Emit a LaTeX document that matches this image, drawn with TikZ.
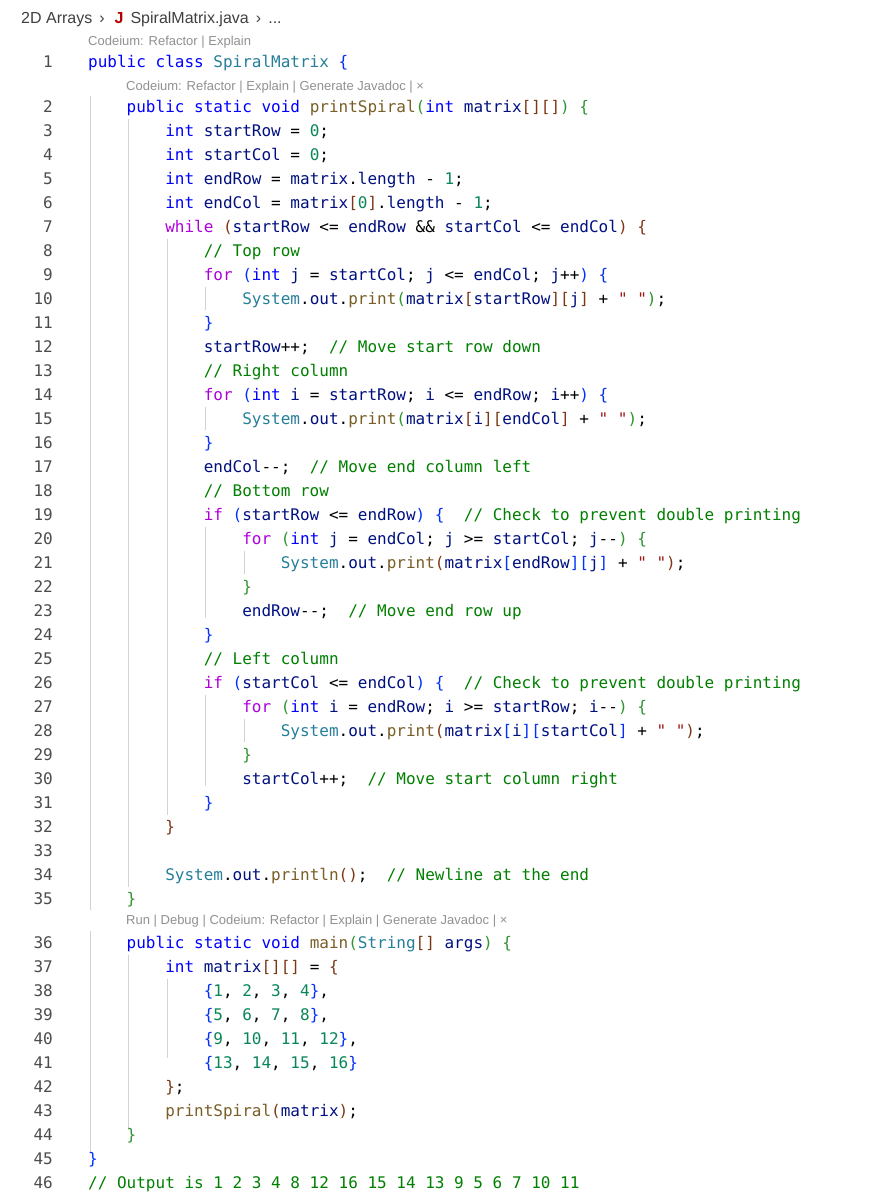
\documentclass[tikz,border=0pt]{standalone}
\usepackage{fontspec}
\setmainfont{Liberation Sans}
\setmonofont{DejaVu Sans Mono}
\definecolor{kw}{HTML}{0000FF}
\definecolor{ctl}{HTML}{AF00DB}
\definecolor{typ}{HTML}{267F99}
\definecolor{var}{HTML}{001080}
\definecolor{fn}{HTML}{795E26}
\definecolor{num}{HTML}{098658}
\definecolor{cmt}{HTML}{008000}
\definecolor{str}{HTML}{A31515}
\definecolor{ba}{HTML}{0431FA}
\definecolor{bb}{HTML}{319331}
\definecolor{bc}{HTML}{7B3814}
\definecolor{guide}{HTML}{D3D3D3}
\definecolor{lens}{HTML}{919191}
\newcommand\K[1]{\textcolor{kw}{#1}}
\newcommand\Cc[1]{\textcolor{ctl}{#1}}
\newcommand\Ty[1]{\textcolor{typ}{#1}}
\newcommand\V[1]{\textcolor{var}{#1}}
\newcommand\Fn[1]{\textcolor{fn}{#1}}
\newcommand\Nm[1]{\textcolor{num}{#1}}
\newcommand\Cm[1]{\textcolor{cmt}{#1}}
\newcommand\St[1]{\textcolor{str}{#1}}
\newcommand\Ba[1]{\textcolor{ba}{#1}}
\newcommand\Bb[1]{\textcolor{bb}{#1}}
\newcommand\Bc[1]{\textcolor{bc}{#1}}
\tikzset{
  code/.style={anchor=base west, inner sep=0, font=\fontsize{16}{16}\selectfont\ttfamily},
  lno/.style={anchor=base east, inner sep=0, font=\fontsize{16}{16}\selectfont\ttfamily, text=black!70},
  lensst/.style={anchor=base west, inner sep=0, font=\fontsize{13}{13}\selectfont, text=lens},
}
\newcommand\CL[4]{%
  \node[lno] (n#1) at (53,#2+5.5) {#1};
  \node[code] (l#1) at (88+38.53*#3,#2+5.5) {#4};}
\begin{document}
\begin{tikzpicture}[x=1pt,y=-1pt]
\useasboundingbox (0,0) rectangle (886,1200);
\fill[white] (0,0) rectangle (886,1200);
% indent guides
\foreach \x/\a/\b in {90/96/910, 90/931/1154, 128.5/119/887, 128.5/955/1130, 167/239/815, 167/979/1058, 205.5/287/310, 205.5/407/430, 205.5/527/618, 205.5/695/786, 244/551/574, 244/719/742}
  \draw[guide, line width=0.8pt] (\x,\a) -- (\x,\b);
% breadcrumb
\node[anchor=base west, inner sep=0, font=\fontsize{16}{16}\selectfont, text=black!75] (crumb) at (21,23)
  {2D Arrays \,›\,\, \textcolor{red!70!black}{\textbf{J}}\, SpiralMatrix.java \,›\, ...};
\node[lensst] (lens1) at (88,45) {Codeium: Refactor | Explain};
\node[lensst] (lens2) at (126,90) {Codeium: Refactor | Explain | Generate Javadoc | ×};
\node[lensst] (lens3) at (126,924) {Run | Debug | Codeium: Refactor | Explain | Generate Javadoc | ×};
\CL{1}{62}{0}{\K{public} \K{class} \Ty{SpiralMatrix} \Ba{\{}}
\CL{2}{107}{1}{\K{public} \K{static} \K{void} \Fn{printSpiral}\Bb{(}\K{int} \V{matrix}\Bc{[]}\Bc{[]}\Bb{)} \Bb{\{}}
\CL{3}{131}{2}{\K{int} \V{startRow} = \Nm{0};}
\CL{4}{155}{2}{\K{int} \V{startCol} = \Nm{0};}
\CL{5}{179}{2}{\K{int} \V{endRow} = \V{matrix}.\V{length} - \Nm{1};}
\CL{6}{203}{2}{\K{int} \V{endCol} = \V{matrix}\Bc{[}\Nm{0}\Bc{]}.\V{length} - \Nm{1};}
\CL{7}{227}{2}{\Cc{while} \Bc{(}\V{startRow} <= \V{endRow} \&\& \V{startCol} <= \V{endCol}\Bc{)} \Bc{\{}}
\CL{8}{251}{3}{\Cm{// Top row}}
\CL{9}{275}{3}{\Cc{for} \Ba{(}\K{int} \V{j} = \V{startCol}; \V{j} <= \V{endCol}; \V{j}++\Ba{)} \Ba{\{}}
\CL{10}{299}{4}{\Ty{System}.\V{out}.\Fn{print}\Bb{(}\V{matrix}\Bc{[}\V{startRow}\Bc{]}\Bc{[}\V{j}\Bc{]} + \St{" "}\Bb{)};}
\CL{11}{323}{3}{\Ba{\}}}
\CL{12}{347}{3}{\V{startRow}++;\ \ \Cm{// Move start row down}}
\CL{13}{371}{3}{\Cm{// Right column}}
\CL{14}{395}{3}{\Cc{for} \Ba{(}\K{int} \V{i} = \V{startRow}; \V{i} <= \V{endRow}; \V{i}++\Ba{)} \Ba{\{}}
\CL{15}{419}{4}{\Ty{System}.\V{out}.\Fn{print}\Bb{(}\V{matrix}\Bc{[}\V{i}\Bc{]}\Bc{[}\V{endCol}\Bc{]} + \St{" "}\Bb{)};}
\CL{16}{443}{3}{\Ba{\}}}
\CL{17}{467}{3}{\V{endCol}--;\ \ \Cm{// Move end column left}}
\CL{18}{491}{3}{\Cm{// Bottom row}}
\CL{19}{515}{3}{\Cc{if} \Ba{(}\V{startRow} <= \V{endRow}\Ba{)} \Ba{\{}\ \ \Cm{// Check to prevent double printing}}
\CL{20}{539}{4}{\Cc{for} \Bb{(}\K{int} \V{j} = \V{endCol}; \V{j} >= \V{startCol}; \V{j}--\Bb{)} \Bb{\{}}
\CL{21}{563}{5}{\Ty{System}.\V{out}.\Fn{print}\Bc{(}\V{matrix}\Ba{[}\V{endRow}\Ba{]}\Ba{[}\V{j}\Ba{]} + \St{" "}\Bc{)};}
\CL{22}{587}{4}{\Bb{\}}}
\CL{23}{611}{4}{\V{endRow}--;\ \ \Cm{// Move end row up}}
\CL{24}{635}{3}{\Ba{\}}}
\CL{25}{659}{3}{\Cm{// Left column}}
\CL{26}{683}{3}{\Cc{if} \Ba{(}\V{startCol} <= \V{endCol}\Ba{)} \Ba{\{}\ \ \Cm{// Check to prevent double printing}}
\CL{27}{707}{4}{\Cc{for} \Bb{(}\K{int} \V{i} = \V{endRow}; \V{i} >= \V{startRow}; \V{i}--\Bb{)} \Bb{\{}}
\CL{28}{731}{5}{\Ty{System}.\V{out}.\Fn{print}\Bc{(}\V{matrix}\Ba{[}\V{i}\Ba{]}\Ba{[}\V{startCol}\Ba{]} + \St{" "}\Bc{)};}
\CL{29}{755}{4}{\Bb{\}}}
\CL{30}{779}{4}{\V{startCol}++;\ \ \Cm{// Move start column right}}
\CL{31}{803}{3}{\Ba{\}}}
\CL{32}{827}{2}{\Bc{\}}}
\CL{33}{851}{2}{}
\CL{34}{875}{2}{\Ty{System}.\V{out}.\Fn{println}\Bc{()};\ \ \Cm{// Newline at the end}}
\CL{35}{899}{1}{\Bb{\}}}
\CL{36}{943}{1}{\K{public} \K{static} \K{void} \Fn{main}\Bb{(}\Ty{String}\Bc{[]} \V{args}\Bb{)} \Bb{\{}}
\CL{37}{967}{2}{\K{int} \V{matrix}\Bc{[]}\Bc{[]} = \Bc{\{}}
\CL{38}{991}{3}{\Ba{\{}\Nm{1}, \Nm{2}, \Nm{3}, \Nm{4}\Ba{\}},}
\CL{39}{1015}{3}{\Ba{\{}\Nm{5}, \Nm{6}, \Nm{7}, \Nm{8}\Ba{\}},}
\CL{40}{1039}{3}{\Ba{\{}\Nm{9}, \Nm{10}, \Nm{11}, \Nm{12}\Ba{\}},}
\CL{41}{1063}{3}{\Ba{\{}\Nm{13}, \Nm{14}, \Nm{15}, \Nm{16}\Ba{\}}}
\CL{42}{1087}{2}{\Bc{\}};}
\CL{43}{1111}{2}{\Fn{printSpiral}\Bc{(}\V{matrix}\Bc{)};}
\CL{44}{1135}{1}{\Bb{\}}}
\CL{45}{1159}{0}{\Ba{\}}}
\CL{46}{1183}{0}{\Cm{// Output is 1 2 3 4 8 12 16 15 14 13 9 5 6 7 10 11}}
\end{tikzpicture}
\end{document}
